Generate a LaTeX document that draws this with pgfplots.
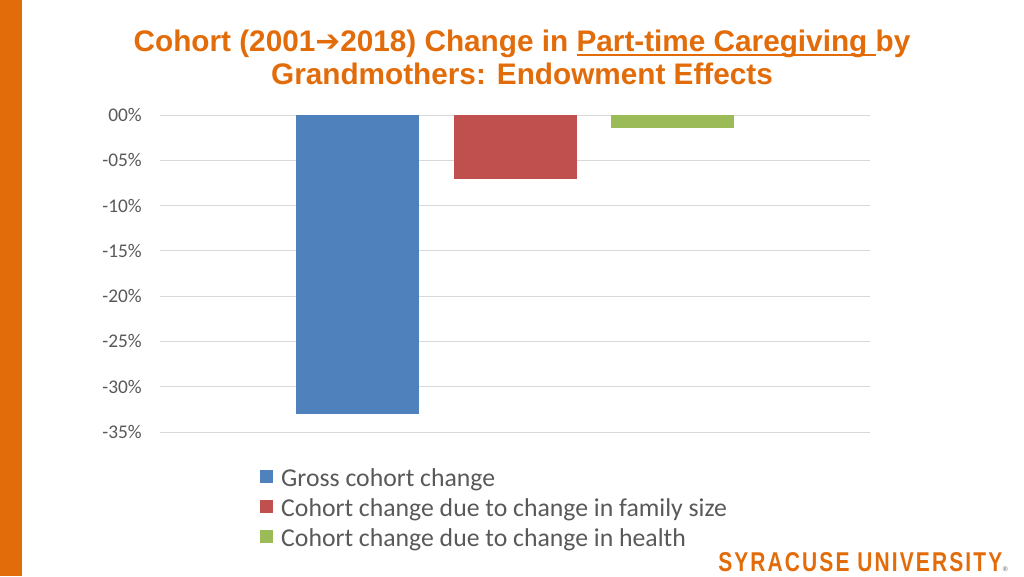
\documentclass[border=0pt]{standalone}
\usepackage{pgfplots}
\pgfplotsset{compat=1.18}
\usepackage{fontspec}
\setmainfont{Carlito}
\newfontfamily\arialfont{Liberation Sans}
\newfontfamily\dejavu{DejaVu Sans}
\definecolor{suorange}{HTML}{E36C0A}
\definecolor{tickgray}{HTML}{595959}
\definecolor{bblue}{HTML}{4F81BD}
\definecolor{bred}{HTML}{C0504D}
\definecolor{bgreen}{HTML}{9BBB59}
\newcommand\ul[1]{\setbox0\hbox{#1}\rlap{\raisebox{-3pt}{\rule{\wd0}{1.4pt}}}\box0}
\begin{document}
\begin{tikzpicture}
\fill[white] (0,0) rectangle (768pt,432pt);
\fill[suorange] (0,0) rectangle (16.5pt,432pt);
\node[anchor=base,inner sep=0pt,text=suorange,font=\arialfont\bfseries\fontsize{22.3pt}{26pt}\selectfont] at (391.5pt,393pt) {Cohort (2001{\dejavu\bfseries ➔}2018) Change in \ul{Part-time Caregiving }by};
\node[anchor=base,inner sep=0pt,text=suorange,font=\arialfont\bfseries\fontsize{22.3pt}{26pt}\selectfont] at (391.5pt,368.25pt) {Grandmothers: Endowment Effects};
\node[anchor=south west,inner sep=0pt,text=suorange] at (538.5pt,3pt) {\resizebox{213pt}{14.25pt}{\arialfont\bfseries\addfontfeatures{LetterSpace=10}SYRACUSE UNIVERSITY}};
\node[anchor=south west,inner sep=0pt,text=tickgray,font=\arialfont\fontsize{5pt}{6pt}\selectfont] at (752pt,3pt) {®};
\begin{axis}[
  at={(120pt,108pt)}, anchor=south west,
  scale only axis, width=532.5pt, height=237.75pt,
  xmin=-2.254, xmax=2.254, ymin=-35, ymax=0,
  clip=false,
  axis line style={draw=none},
  xtick=\empty,
  ytick={0,-5,-10,-15,-20,-25,-30,-35},
  yticklabels={00\%,-05\%,-10\%,-15\%,-20\%,-25\%,-30\%,-35\%},
  major tick length=0pt,
  ymajorgrids,
  grid style={draw=black!15, line width=0.75pt},
  yticklabel style={font=\fontsize{14.5pt}{17pt}\selectfont, text=tickgray, inner sep=0pt, xshift=-13.5pt},
  legend style={at={(0.1408,-0.113)}, anchor=north west, draw=none, fill=none, inner sep=0pt,
     font=\fontsize{19.3pt}{22pt}\selectfont, text=tickgray,
     nodes={inner sep=0pt, text height=14pt, text depth=4pt},
     row sep=4.5pt, column sep=6pt},
  legend cell align=left,
  legend image code/.code={\path[#1] (0pt,-2.5pt) rectangle (9.75pt,7.25pt);},
]
\addplot[ybar, bar shift=0pt, bar width=0.781, fill=bblue, draw=none] coordinates {(-1,-33.0)};
\addlegendentry{Gross cohort change}
\addplot[ybar, bar shift=0pt, bar width=0.781, fill=bred, draw=none] coordinates {(0,-7.1)};
\addlegendentry{Cohort change due to change in family size}
\addplot[ybar, bar shift=0pt, bar width=0.781, fill=bgreen, draw=none] coordinates {(1,-1.45)};
\addlegendentry{Cohort change due to change in health}
\end{axis}
\end{tikzpicture}
\end{document}
